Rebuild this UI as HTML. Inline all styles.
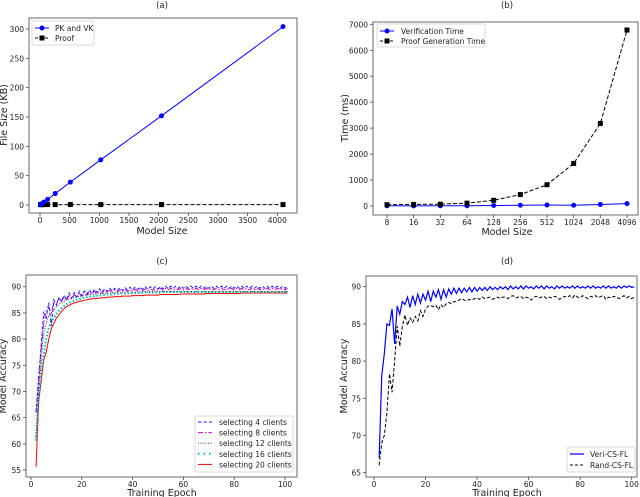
<!DOCTYPE html>
<html><head><meta charset="utf-8">
<style>
body{margin:0;background:#fff;}
svg{display:block;font-family:"DejaVu Sans","Liberation Sans",sans-serif;}
</style></head>
<body>
<svg id="fig" width="640" height="497" viewBox="0 0 640 497" xmlns="http://www.w3.org/2000/svg"></svg>
<script>
// ---- Panel (a) data ----
const aSizes=[8,16,32,64,128,256,512,1024,2048,4096];
const aPkVk=[0.6,1.2,2.4,4.8,9.6,19.5,39,77,152,304];
const aProof=[0.7,0.7,0.7,0.7,0.7,0.7,0.7,0.7,0.7,0.7];
const aXTicks=[0,500,1000,1500,2000,2500,3000,3500,4000];
const aYTicks=[0,50,100,150,200,250,300];
// ---- Panel (b) data ----
const bSizes=["8","16","32","64","128","256","512","1024","2048","4096"];
const bVerify=[10,5,10,10,20,30,40,30,60,90];
const bProofGen=[50,60,70,110,220,440,820,1640,3180,6780];
const bYTicks=[0,1000,2000,3000,4000,5000,6000,7000];
// ---- Panel (c) data (epochs start at 2) ----
const cXTicks=[0,20,40,60,80,100];
const cYTicks=[55,60,65,70,75,80,85,90];
const c4=[66,72,79,85,84,87,82.5,87.5,86.5,88,87.2,88.4,87.5,88.8,87.8,88.9,88,89.1,88.3,89.2,88.6,89.4,88.7,89.5,88.9,89.6,89,89.6,89.1,89.7,89.2,89.7,89.3,89.8,89.3,89.8,89.4,89.9,89.4,89.9,89.5,89.9,89.5,90,89.5,90,89.6,90,89.6,90,89.6,90.1,89.6,90.1,89.7,90.1,89.7,90.1,89.7,90.1,89.7,90.1,89.7,90.1,89.7,90.1,89.7,90.1,89.7,90.1,89.7,90.1,89.7,90.1,89.7,90.1,89.7,90.1,89.7,90.1,89.7,90.1,89.7,90.1,89.7,90.1,89.7,90.1,89.7,90.1,89.7,90.1,89.7,90.1,89.7,90.1,89.7,90.1,89.7,90.1];
const c8=[66,73,78,83,85.5,86,85,87,86.6,87.8,87.2,88,87.4,88.3,87.7,88.5,88,88.7,88.2,88.9,88.4,89,88.6,89.1,88.7,89.2,88.8,89.3,88.9,89.3,89,89.4,89,89.4,89.1,89.5,89.1,89.5,89.2,89.5,89.2,89.6,89.2,89.6,89.3,89.6,89.3,89.6,89.3,89.7,89.3,89.7,89.4,89.7,89.4,89.7,89.4,89.7,89.4,89.7,89.4,89.7,89.4,89.7,89.4,89.7,89.4,89.7,89.4,89.7,89.4,89.7,89.4,89.7,89.4,89.7,89.4,89.7,89.4,89.7,89.4,89.7,89.4,89.7,89.4,89.7,89.4,89.7,89.4,89.7,89.4,89.7,89.4,89.7,89.4,89.7,89.4,89.7,89.4,89.7];
const c12=[61,70,76,81,83,84.5,85,85.5,86.2,86.6,87,87.2,87.5,87.6,87.8,88,88,88.2,88.2,88.4,88.4,88.5,88.5,88.6,88.6,88.7,88.7,88.7,88.8,88.8,88.8,88.9,88.9,88.9,88.9,89,89,89,89,89,89,89.1,89,89.1,89,89.1,89,89.1,89,89.1,89,89.1,89,89.1,89,89.1,89,89.1,89,89.1,89,89.1,89,89.1,89,89.1,89,89.1,89,89.1,89,89.1,89,89.1,89,89.1,89,89.1,89,89.1,89,89.1,89,89.1,89,89.1,89,89.1,89,89.1,89,89.1,89,89.1,89,89.1,89,89.1,89,89.1];
const c16=[60.6,69,74,77,80,82.2,83.3,84,84.8,85.4,85.9,86.3,86.6,86.9,87.1,87.3,87.5,87.6,87.8,87.9,88,88.1,88.2,88.2,88.3,88.3,88.4,88.4,88.5,88.5,88.5,88.6,88.6,88.6,88.7,88.7,88.7,88.7,88.8,88.8,88.8,88.8,88.8,88.9,88.9,88.9,88.9,88.9,88.9,88.9,89,89,89,89,89,89,89,89,89,89,89,89,89,89,89,89,89,89,89,89,89,89,89,89,89,89,89,89,89,89,89,89,89,89,89,89,89,89,89,89,89,89,89,89,89,89,89,89,89,89];
const c20=[55.6,68,72,76,77.5,80,82,83,84,84.6,85.3,85.8,86.2,86.4,86.7,86.9,87,87.2,87.3,87.4,87.5,87.6,87.7,87.7,87.8,87.8,87.9,87.9,88,88,88,88.1,88.1,88.1,88.2,88.2,88.2,88.2,88.3,88.3,88.3,88.3,88.3,88.4,88.4,88.4,88.4,88.4,88.4,88.5,88.5,88.5,88.5,88.5,88.5,88.5,88.5,88.6,88.6,88.6,88.6,88.6,88.6,88.6,88.6,88.6,88.6,88.7,88.7,88.7,88.7,88.7,88.7,88.7,88.7,88.7,88.7,88.7,88.7,88.7,88.7,88.8,88.8,88.8,88.8,88.8,88.8,88.8,88.8,88.8,88.8,88.8,88.8,88.8,88.8,88.8,88.8,88.8,88.8,88.8];
// ---- Panel (d) data (epochs start at 2) ----
const dXTicks=[0,20,40,60,80,100];
const dYTicks=[65,70,75,80,85,90];
const dVeri=[67,78,81,85,84.8,87,82.3,87.4,86.3,88,87.6,88.6,87.2,88.8,87.6,89,87.8,89,88.2,89.4,88,89.4,88.6,89.6,88.3,89.6,88.6,89.7,89,89.8,89.1,89.8,89.2,89.8,89.3,89.9,89.3,89.9,89.4,89.9,89.5,89.9,89.5,90,89.6,89.9,89.6,90,89.7,90,89.6,90.1,89.7,90,89.7,90.1,89.7,90.1,89.8,90,89.7,90.1,89.8,90.1,89.7,90.1,89.8,90,89.7,90.1,89.8,90.1,89.8,90,89.8,90.1,89.8,90.1,89.8,90,89.8,90.1,89.8,90.1,89.8,90,89.8,90.1,89.8,90.1,89.8,90,89.8,90.1,89.8,90.1,89.9,90.1,89.9,90];
const dRand=[66,69,70,73,78.3,75.8,80,84.7,82,84.7,86.2,84.8,85.8,85.2,86,85.4,86.8,86,87,87.4,87.5,87.3,87.5,86.9,87.6,87.2,87.7,87.9,87.7,88,88,88.2,88.4,88.2,88.1,88.3,88.2,88.4,88.5,88.3,88.6,88.4,88.5,88.6,88.3,88.5,88.6,88.4,88.6,88.6,88.4,88.7,88.8,88.5,88.6,88.7,88.4,88.6,88.5,88.2,88.6,88.7,88.5,88.6,88.7,88.4,88.6,88.5,88.7,88.6,88.3,88.5,88.7,88.6,88.8,88.5,88.9,88.6,88.5,88.8,88.6,88.4,88.7,88.6,88.8,88.5,88.7,88.8,88.3,88.6,88.5,88.7,88.6,88.4,88.6,88.8,88.5,88.7,88.4,88.6];

const NS="http://www.w3.org/2000/svg";
const svg=document.getElementById('fig');
function mk(tag,attrs,parent){const e=document.createElementNS(NS,tag);for(const k in attrs)e.setAttribute(k,attrs[k]);(parent||svg).appendChild(e);return e;}
function txt(s,x,y,size,anchor,parent,rot){const t=mk('text',{x:x,y:y,'font-size':size,'text-anchor':anchor||'middle',fill:'#222'},parent);if(rot)t.setAttribute('transform','rotate(-90 '+x+' '+y+')');t.textContent=s;return t;}
function lin(d0,d1,p0,p1){return v=>p0+(v-d0)*(p1-p0)/(d1-d0);}
function axesBox(name,x0,y0,x1,y1){const g=mk('g',{});
  mk('rect',{x:x0,y:y0,width:x1-x0,height:y1-y0,fill:'none',stroke:'#444','stroke-width':0.8},g);return g;}
function xTicks(g,ticks,labels,sx,yb){ticks.forEach((t,i)=>{const x=sx(t);mk('line',{x1:x,y1:yb,x2:x,y2:yb+3,stroke:'#444','stroke-width':0.8},g);const l=txt(labels[i],x,yb+10,7.5,'middle',g);});}
function yTicks(g,ticks,sy,xl){ticks.forEach(t=>{const y=sy(t);mk('line',{x1:xl-3,y1:y,x2:xl,y2:y,stroke:'#444','stroke-width':0.8},g);const l=txt(String(t),xl-5,y+3,7.5,'end',g);});}
function path(g,pts,attrs,name){const p=mk('polyline',Object.assign({points:pts.map(q=>q[0].toFixed(2)+','+q[1].toFixed(2)).join(' '),fill:'none'},attrs),g);return p;}

// ===== Panel (a) =====
{const g=axesBox('panel-a',29,18,297,213);
 const sx=lin(0,4000,40,277.3), sy=lin(0,300,205,29);
 txt('(a)',162,8,8.5,'middle',g);
 xTicks(g,aXTicks,aXTicks.map(String),sx,213);yTicks(g,aYTicks,sy,29);
 txt('Model Size',162,234,9.5,'middle',g);
 txt('File Size (KB)',7,115,9.5,'middle',g,true);
 path(g,aSizes.map((s,i)=>[sx(s),sy(aProof[i])]),{stroke:'#000','stroke-width':1,'stroke-dasharray':'4,2'},'proof-line');
 aSizes.forEach((s,i)=>{const m=mk('rect',{x:sx(s)-2.5,y:sy(aProof[i])-2.5,width:5,height:5,fill:'#000'},g);});
 path(g,aSizes.map((s,i)=>[sx(s),sy(aPkVk[i])]),{stroke:'#00f','stroke-width':1},'pk-vk-line');
 aSizes.forEach((s,i)=>{const m=mk('circle',{cx:sx(s),cy:sy(aPkVk[i]),r:2.5,fill:'#00f'},g);});
 const lg=mk('g',{},g);
 mk('rect',{x:32,y:21,width:62,height:24,fill:'#fff',stroke:'#ccc','stroke-width':0.7,rx:1.5},lg);
 mk('line',{x1:35,y1:28,x2:49,y2:28,stroke:'#00f'},lg);mk('circle',{cx:42,cy:28,r:2.5,fill:'#00f'},lg);txt('PK and VK',55,31,7.5,'start',lg);
 mk('line',{x1:35,y1:38,x2:49,y2:38,stroke:'#000','stroke-dasharray':'3,2'},lg);mk('rect',{x:39.5,y:35.5,width:5,height:5,fill:'#000'},lg);txt('Proof',55,41,7.5,'start',lg);
}
// ===== Panel (b) =====
{const g=axesBox('panel-b',373,22,638,215);
 const sx=i=>387+i*(627-387)/(bSizes.length-1), sy=lin(0,7000,206,24.3);
 txt('(b)',507,8,8.5,'middle',g);
 xTicks(g,bSizes.map((_,i)=>i),bSizes,sx,215);yTicks(g,bYTicks,sy,373);
 txt('Model Size',507,235,9.5,'middle',g);
 txt('Time (ms)',348,118,9.5,'middle',g,true);
 path(g,bSizes.map((s,i)=>[sx(i),sy(bVerify[i])]),{stroke:'#00f','stroke-width':1},'verification-line');
 bSizes.forEach((s,i)=>{const m=mk('circle',{cx:sx(i),cy:sy(bVerify[i]),r:2.5,fill:'#00f'},g);});
 path(g,bSizes.map((s,i)=>[sx(i),sy(bProofGen[i])]),{stroke:'#000','stroke-width':1,'stroke-dasharray':'4,2'},'proof-generation-line');
 bSizes.forEach((s,i)=>{const m=mk('rect',{x:sx(i)-2.5,y:sy(bProofGen[i])-2.5,width:5,height:5,fill:'#000'},g);});
 const lg=mk('g',{},g);
 mk('rect',{x:377,y:24,width:108,height:23,fill:'#fff',stroke:'#ccc','stroke-width':0.7,rx:1.5},lg);
 mk('line',{x1:380,y1:31,x2:394,y2:31,stroke:'#00f'},lg);mk('circle',{cx:387,cy:31,r:2.5,fill:'#00f'},lg);txt('Verification Time',401,34,7.5,'start',lg);
 mk('line',{x1:380,y1:41,x2:394,y2:41,stroke:'#000','stroke-dasharray':'3,2'},lg);mk('rect',{x:384.5,y:38.5,width:5,height:5,fill:'#000'},lg);txt('Proof Generation Time',401,44,7.5,'start',lg);
}
// ===== Panel (c) =====
{const g=axesBox('panel-c',26,275,297,477);
 const sx=lin(0,100,31,285), sy=lin(55,90,470,286.7);
 txt('(c)',162,264,8.5,'middle',g);
 xTicks(g,cXTicks,cXTicks.map(String),sx,477);yTicks(g,cYTicks,sy,26);
 txt('Training Epoch',162,496,9.5,'middle',g);
 txt('Model Accuracy',6,376,9.5,'middle',g,true);
 const pts=a=>a.map((v,i)=>[sx(i+2),sy(v)]);
 path(g,pts(c20),{stroke:'#f00','stroke-width':1},'series-20-clients');
 path(g,pts(c16),{stroke:'#0bb','stroke-width':2,'stroke-dasharray':'1.5,2'},'series-16-clients');
 path(g,pts(c12),{stroke:'#222','stroke-width':0.9,'stroke-dasharray':'1,1.5'},'series-12-clients');
 path(g,pts(c8),{stroke:'#d000d0','stroke-width':1,'stroke-dasharray':'5,2,1.5,2'},'series-8-clients');
 path(g,pts(c4),{stroke:'#22f','stroke-width':1,'stroke-dasharray':'3.5,2'},'series-4-clients');
 const lg=mk('g',{},g);
 mk('rect',{x:195,y:416,width:98,height:56,fill:'#fff',stroke:'#ccc','stroke-width':0.7,rx:1.5},lg);
 const items=[['selecting 4 clients','#22f','3.5,2',1],['selecting 8 clients','#d000d0','5,2,1.5,2',1],['selecting 12 clients','#222','1,1.5',0.9],['selecting 16 clients','#0bb','1.5,4',2],['selecting 20 clients','#f00','',1]];
 items.forEach((it,i)=>{const y=422+i*10.6;mk('line',{x1:198,y1:y,x2:212,y2:y,stroke:it[1],'stroke-width':it[3],'stroke-dasharray':it[2]},lg);txt(it[0],219,y+3,7.5,'start',lg);});
}
// ===== Panel (d) =====
{const g=axesBox('panel-d',366,276,637,477);
 const sx=lin(0,100,374,631.7), sy=lin(65,90,472.7,286.7);
 txt('(d)',507,264,8.5,'middle',g);
 xTicks(g,dXTicks,dXTicks.map(String),sx,477);yTicks(g,dYTicks,sy,366);
 txt('Training Epoch',507,496,9.5,'middle',g);
 txt('Model Accuracy',347,376,9.5,'middle',g,true);
 const pts=a=>a.map((v,i)=>[sx(i+2),sy(v)]);
 path(g,pts(dRand),{stroke:'#000','stroke-width':1,'stroke-dasharray':'3.5,2'},'rand-cs-fl-line');
 path(g,pts(dVeri),{stroke:'#00f','stroke-width':1.2},'veri-cs-fl-line');
 const lg=mk('g',{},g);
 mk('rect',{x:567,y:447,width:68,height:25,fill:'#fff',stroke:'#ccc','stroke-width':0.7,rx:1.5},lg);
 mk('line',{x1:570,y1:454,x2:584,y2:454,stroke:'#00f','stroke-width':1.2},lg);txt('Veri-CS-FL',590,457,7.5,'start',lg);
 mk('line',{x1:570,y1:465,x2:584,y2:465,stroke:'#000','stroke-dasharray':'3,2'},lg);txt('Rand-CS-FL',590,468,7.5,'start',lg);
}
</script>
</body></html>
